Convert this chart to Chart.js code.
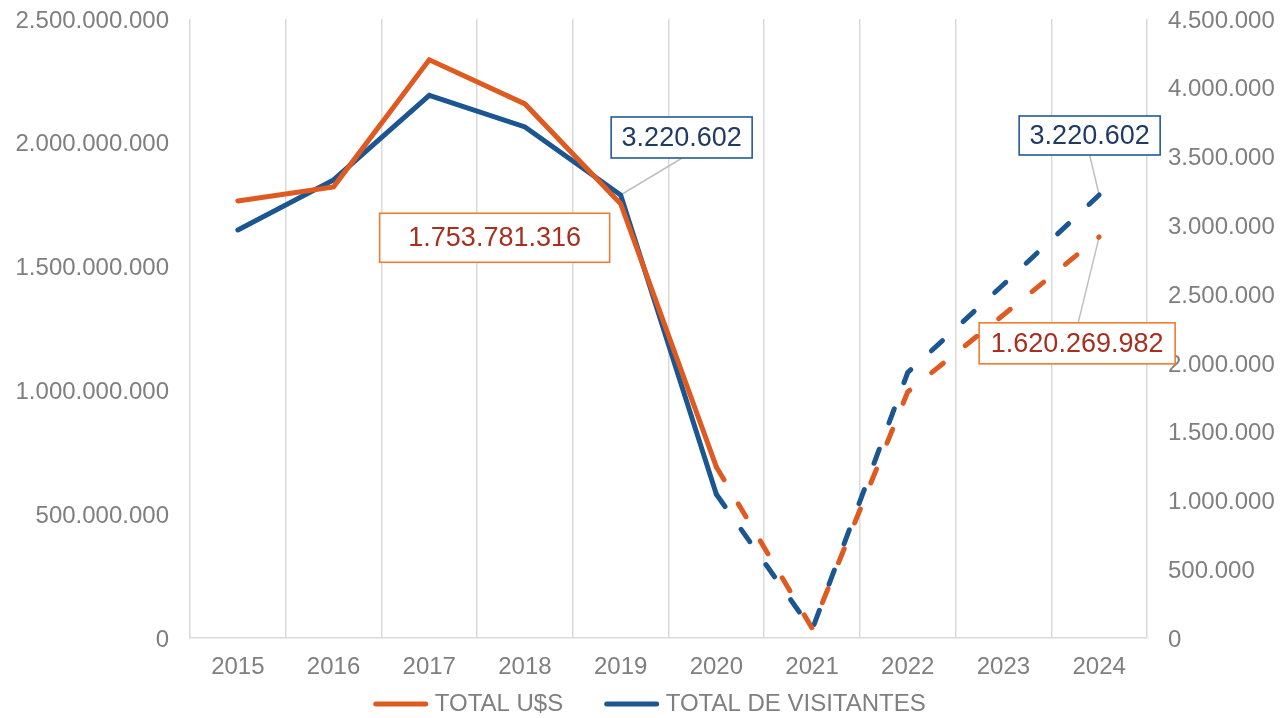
<!DOCTYPE html>
<html>
<head>
<meta charset="utf-8">
<script src="https://cdn.jsdelivr.net/npm/chart.js@4.4.1/dist/chart.umd.min.js"></script>
<style>
  html, body { margin: 0; padding: 0; background: #ffffff; }
  #wrap { width: 1281px; height: 718px; }
</style>
</head>
<body>
<div id="wrap"><canvas id="c" width="1281" height="718"></canvas></div>
<script>
// ---- data ----
const years = ['2015', '2016', '2017', '2018', '2019', '2020', '2021', '2022', '2023', '2024'];
const totalUSD = [1765000000, 1822000000, 2335000000, 2157000000, 1753781316, 691000000, 40000000, 994000000, 1305000000, 1620269982];
const totalVisitors = [2966000, 3330000, 3945000, 3715000, 3220602, 1045000, 58000, 1930000, 2570000, 3220602];
const seriesNames = ['TOTAL U$S', 'TOTAL DE VISITANTES'];
const leftTicksMax = 2500000000;
const leftTicksStep = 500000000;
const rightTicksMax = 4500000;
const rightTicksStep = 500000;
const projectedFromIndex = 5; // dashed from 2020 onward

const FONT = "'Liberation Sans', Arial, sans-serif";
const ORANGE = '#DF5A20';
const BLUE = '#1C5690';
const GRAY_TXT = '#7F7F7F';
const GRID = '#DADADA';

function fmt(v) {
  return Math.round(v).toString().replace(/\B(?=(\d{3})+(?!\d))/g, '.');
}

const dashSeg = {
  borderDash: ctx => (ctx.p0DataIndex >= projectedFromIndex ? [15, 28] : undefined)
};

// callout labels (dataset, index, box offsets relative to the point)
const callouts = [
  { ds: 1, idx: 4, dx: 61, dy: -57.5, w: 141, h: 41, text: '#1F3B63', border: '#1F5C99', leader: [0.5, 20.5] },
  { ds: 0, idx: 4, dx: -126, dy: 34, w: 230, h: 49, text: '#A5301F', border: '#ED7D31', leader: null },
  { ds: 1, idx: 9, dx: -9.5, dy: -59.5, w: 141, h: 39, text: '#1F3B63', border: '#1F5C99', leader: [0, 19.5] },
  { ds: 0, idx: 9, dx: -22, dy: 106.5, w: 196, h: 41, text: '#A5301F', border: '#ED7D31', leader: [1, -20.5] }
];

const calloutPlugin = {
  id: 'callouts',
  beforeDatasetsDraw(chart) {
    const ctx = chart.ctx;
    ctx.save();
    callouts.forEach(c => {
      const pt = chart.getDatasetMeta(c.ds).data[c.idx];
      const val = chart.data.datasets[c.ds].data[c.idx];
      const cx = pt.x + c.dx, cy = pt.y + c.dy;
      if (c.leader) {
        ctx.beginPath();
        ctx.strokeStyle = '#BFBFBF';
        ctx.lineWidth = 1.5;
        ctx.moveTo(cx + c.leader[0], cy + c.leader[1]);
        ctx.lineTo(pt.x, pt.y);
        ctx.stroke();
      }
      ctx.fillStyle = '#ffffff';
      ctx.fillRect(cx - c.w / 2, cy - c.h / 2, c.w, c.h);
      ctx.strokeStyle = c.border;
      ctx.lineWidth = 1.6;
      ctx.strokeRect(cx - c.w / 2, cy - c.h / 2, c.w, c.h);
      ctx.fillStyle = c.text;
      ctx.font = '27px ' + FONT;
      ctx.textAlign = 'center';
      ctx.textBaseline = 'middle';
      ctx.fillText(fmt(val), cx, cy + 1);
    });
    ctx.restore();
  }
};

const legendPlugin = {
  id: 'customLegend',
  afterDraw(chart) {
    const ctx = chart.ctx;
    ctx.save();
    ctx.font = '24px ' + FONT;
    const sw = 50, gapTxt = 6.5, gapItem = 41;
    const items = chart.data.datasets.map(d => ({ label: d.label, color: d.borderColor, w: ctx.measureText(d.label).width }));
    let total = 0;
    items.forEach((it, i) => { total += sw + 5 + gapTxt + it.w + (i ? gapItem : 0); });
    let x = chart.width / 2 + 9 - total / 2;
    const y = 704;
    items.forEach((it, i) => {
      if (i) x += gapItem;
      ctx.beginPath();
      ctx.strokeStyle = it.color;
      ctx.lineWidth = 5;
      ctx.lineCap = 'round';
      ctx.moveTo(x + 2.5, y);
      ctx.lineTo(x + 2.5 + sw, y);
      ctx.stroke();
      x += sw + 5 + gapTxt;
      ctx.fillStyle = GRAY_TXT;
      ctx.textAlign = 'left';
      ctx.textBaseline = 'middle';
      ctx.fillText(it.label, x, y);
      x += it.w;
    });
    ctx.restore();
  }
};

function fixVertical(width) {
  return function (scale) {
    scale.width = width;
    scale.paddingTop = 0;
    scale.paddingBottom = 0;
  };
}

new Chart(document.getElementById('c'), {
  type: 'line',
  data: {
    labels: years,
    datasets: [
      {
        label: seriesNames[0],
        data: totalUSD,
        yAxisID: 'y',
        borderColor: ORANGE,
        backgroundColor: ORANGE,
        borderWidth: 5,
        borderCapStyle: 'round',
        pointRadius: 0,
        pointHoverRadius: 0,
        tension: 0,
        segment: dashSeg
      },
      {
        label: seriesNames[1],
        data: totalVisitors,
        yAxisID: 'y1',
        borderColor: BLUE,
        backgroundColor: BLUE,
        borderWidth: 5,
        borderCapStyle: 'round',
        pointRadius: 0,
        pointHoverRadius: 0,
        tension: 0,
        segment: dashSeg
      }
    ]
  },
  options: {
    responsive: false,
    animation: false,
    devicePixelRatio: 1,
    layout: { padding: { top: 19, bottom: 36, left: 0, right: 0 } },
    plugins: {
      legend: { display: false },
      tooltip: { enabled: false },
      title: { display: false }
    },
    scales: {
      x: {
        type: 'category',
        offset: true,
        grid: { display: true, offset: true, color: GRID, lineWidth: 1.5, drawTicks: false },
        border: { display: true, color: GRID, width: 1.5 },
        ticks: { color: GRAY_TXT, font: { family: FONT, size: 24 }, padding: 15, maxRotation: 0 },
        afterFit(scale) { scale.height = 44; scale.paddingLeft = 0; scale.paddingRight = 0; }
      },
      y: {
        position: 'left',
        min: 0,
        max: leftTicksMax,
        grid: { display: false, drawTicks: false },
        border: { display: false },
        ticks: { stepSize: leftTicksStep, color: GRAY_TXT, font: { family: FONT, size: 24 }, padding: 21, labelOffset: 2, callback: v => fmt(v) },
        afterFit: fixVertical(190)
      },
      y1: {
        position: 'right',
        min: 0,
        max: rightTicksMax,
        grid: { display: false, drawTicks: false },
        border: { display: false },
        ticks: { stepSize: rightTicksStep, color: GRAY_TXT, font: { family: FONT, size: 24 }, padding: 21, labelOffset: 2, callback: v => fmt(v) },
        afterFit: fixVertical(134)
      }
    }
  },
  plugins: [calloutPlugin, legendPlugin]
});
</script>
</body>
</html>
